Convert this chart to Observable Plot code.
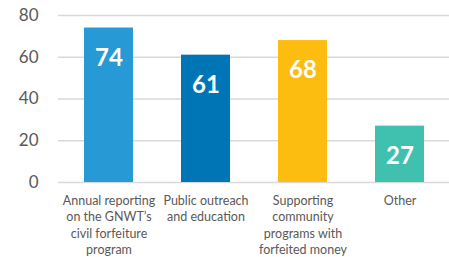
<!DOCTYPE html>
<html>
<head>
<meta charset="utf-8">
<script src="https://cdn.jsdelivr.net/npm/d3@7"></script>
<script src="https://cdn.jsdelivr.net/npm/@observablehq/plot@0.6"></script>
<style>
  html, body { margin: 0; padding: 0; background: #fff; }
</style>
</head>
<body>
<div id="chart"></div>
<script>
const categories = [
  "Annual reporting\non the GNWT’s\ncivil forfeiture\nprogram",
  "Public outreach\nand education",
  "Supporting\ncommunity\nprograms with\nforfeited money",
  "Other"
];
const values = [74, 61, 68, 27];
const barColors = ["#279ad6", "#0075b5", "#fdbd10", "#40c1b0"];
const yTicks = [0, 20, 40, 60, 80];

const data = categories.map((c, i) => ({category: c, value: values[i]}));

const chart = Plot.plot({
  width: 449,
  height: 257,
  marginTop: 15,
  marginBottom: 75,
  marginLeft: 58,
  marginRight: 0,
  style: {fontFamily: "Lato, 'Open Sans', sans-serif", background: "#fff"},
  x: {domain: categories, paddingInner: 0.5, paddingOuter: 0.25, axis: null},
  y: {domain: [0, 80], axis: null},
  color: {domain: categories, range: barColors},
  marks: [
    Plot.gridY(yTicks, {stroke: "#d9d9d9", strokeOpacity: 1, strokeWidth: 1.5}),
    Plot.barY(data, {x: "category", y: "value", fill: "category"}),
    Plot.text(data, {x: "category", y: "value", text: d => String(d.value), dy: 30,
      fill: "white", fontWeight: "bold", fontSize: 24}),
    Plot.text(data, {x: "category", y: 0, text: "category", dy: 11, lineAnchor: "top",
      lineHeight: 1.3, fill: "#595959", fontSize: 12.5}),
    Plot.text(yTicks, {y: d => d, text: d => String(d), frameAnchor: "left",
      textAnchor: "end", dx: -20, fill: "#595959", fontSize: 17})
  ]
});
document.getElementById("chart").appendChild(chart);
</script>
</body>
</html>
